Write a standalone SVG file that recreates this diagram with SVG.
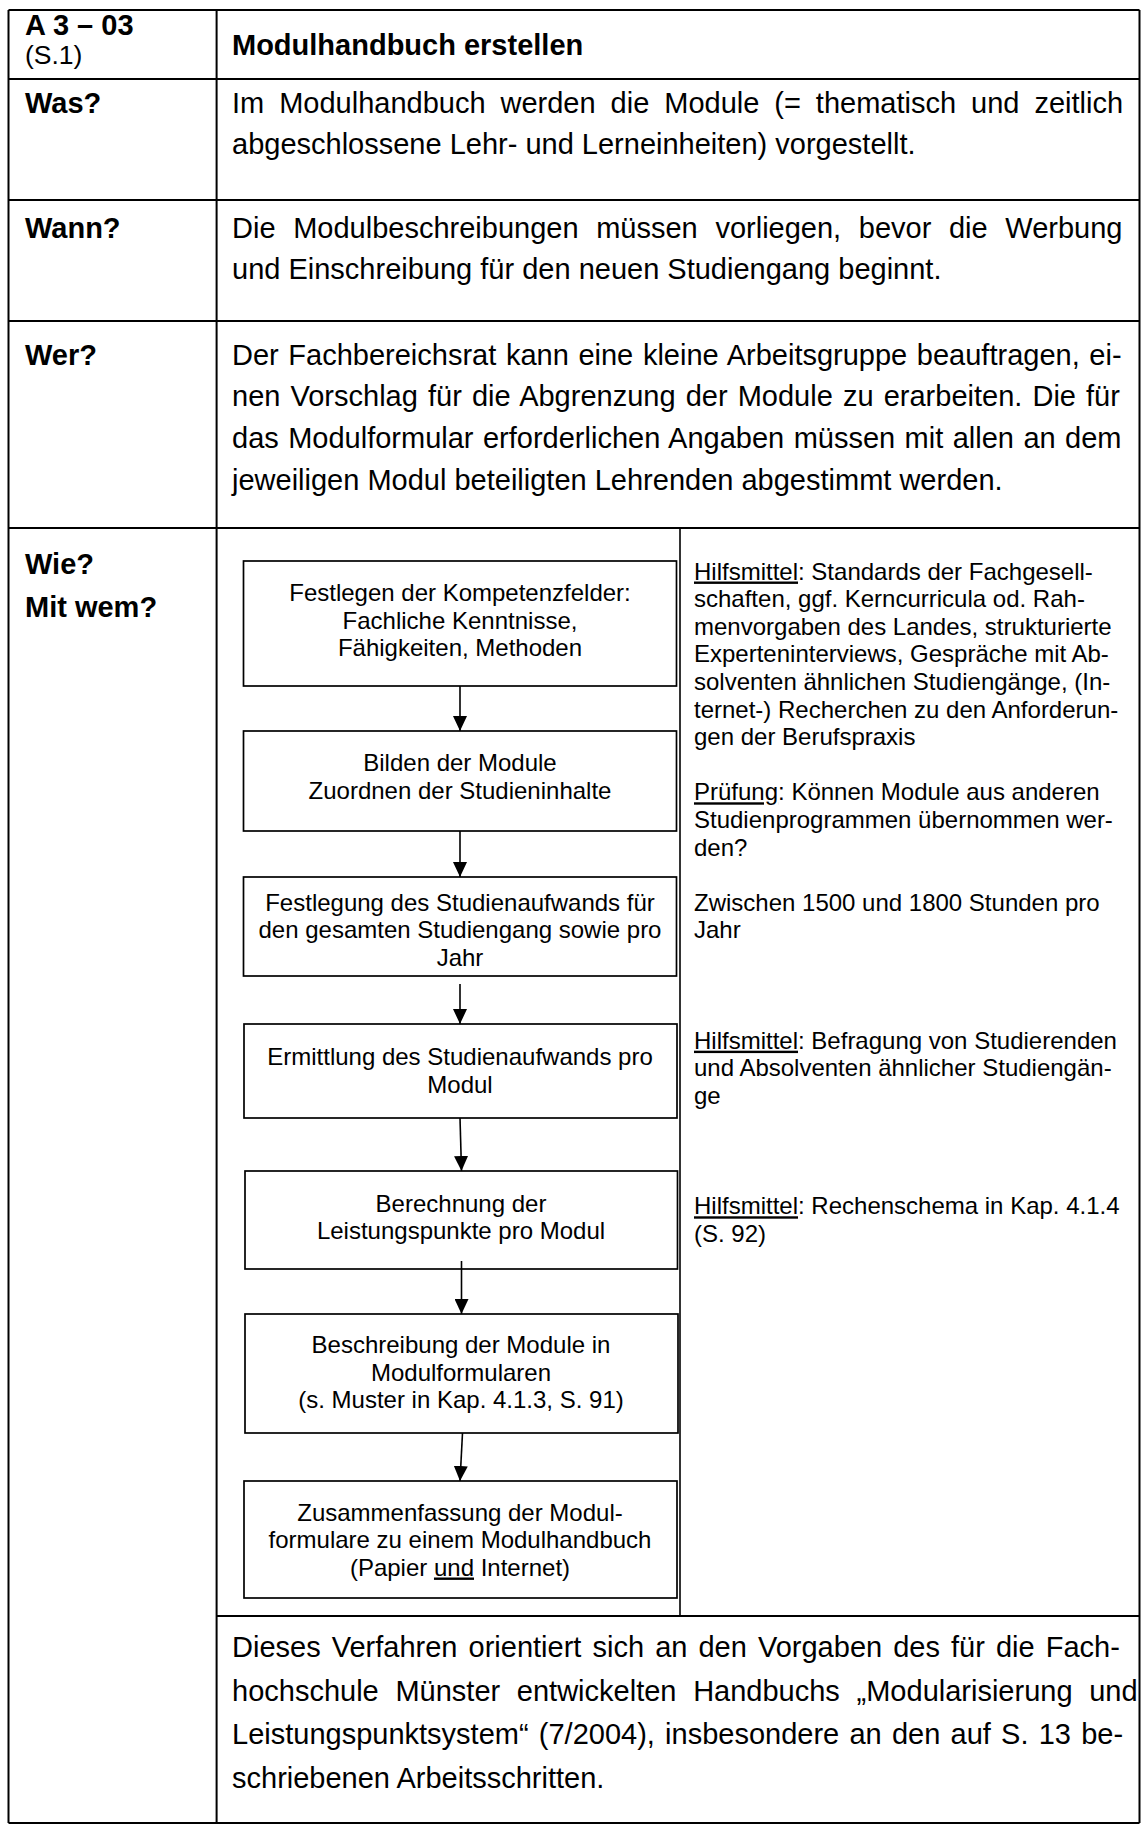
<svg xmlns="http://www.w3.org/2000/svg" width="1143" height="1832" viewBox="0 0 1143 1832">
<defs>
<style>
text{font-family:"Liberation Sans",Arial,sans-serif;fill:#000;}
.b{font-size:29px;}
.bb{font-size:29px;font-weight:bold;}
.s{font-size:24px;}
.c{font-size:24px;text-anchor:middle;}
.u{text-decoration:underline;}
.tl{fill:none;stroke:#000;stroke-width:2;}
.box{fill:#fff;stroke:#000;stroke-width:1.7;}
.con{stroke:#000;stroke-width:1.6;fill:none;}
</style>
<marker id="ah" markerUnits="userSpaceOnUse" markerWidth="15" markerHeight="14" refX="15" refY="7" orient="auto">
<path d="M0,0 L15,7 L0,14 z" fill="#000"/>
</marker>
</defs>
<rect x="0" y="0" width="1143" height="1832" fill="#fff"/>

<g id="table">
<path class="tl" d="M8.5,10 H1139.5 M8.5,79 H1139.5 M8.5,200 H1139.5 M8.5,321 H1139.5 M8.5,528 H1139.5 M216.6,1616 H1139.5 M8.5,1823 H1139.5 M8.5,10 V1823 M216.6,10 V1823 M1139.5,10 V1823"/>
<path d="M680,528 V1616" stroke="#000" stroke-width="1.6" fill="none"/>
</g>

<g id="header">
<text class="bb" x="25" y="34.5">A 3 – 03</text>
<text x="25" y="64" style="font-size:26.5px">(S.1)</text>
<text class="bb" x="232" y="55">Modulhandbuch erstellen</text>
</g>

<g id="row-was">
<text class="bb" x="25" y="112.5">Was?</text>
<text class="b" x="232" y="112.5" word-spacing="6.9">Im Modulhandbuch werden die Module (= thematisch und zeitlich</text>
<text class="b" x="232" y="154">abgeschlossene Lehr- und Lerneinheiten) vorgestellt.</text>
</g>

<g id="row-wann">
<text class="bb" x="25" y="237.5">Wann?</text>
<text class="b" x="232" y="237.5" word-spacing="9.6">Die Modulbeschreibungen müssen vorliegen, bevor die Werbung</text>
<text class="b" x="232" y="278.5">und Einschreibung für den neuen Studiengang beginnt.</text>
</g>

<g id="row-wer">
<text class="bb" x="25" y="364.5">Wer?</text>
<text class="b" x="232" y="364.5" word-spacing="1.57">Der Fachbereichsrat kann eine kleine Arbeitsgruppe beauftragen, ei-</text>
<text class="b" x="232" y="406.2" word-spacing="2.06">nen Vorschlag für die Abgrenzung der Module zu erarbeiten. Die für</text>
<text class="b" x="232" y="447.9" word-spacing="1.37">das Modulformular erforderlichen Angaben müssen mit allen an dem</text>
<text class="b" x="232" y="489.6">jeweiligen Modul beteiligten Lehrenden abgestimmt werden.</text>
</g>

<g id="row-wie">
<text class="bb" x="25" y="573.5">Wie?</text>
<text class="bb" x="25" y="616.5">Mit wem?</text>
</g>

<g id="node-1">
<rect class="box" x="243.5" y="561" width="433" height="125"/>
<text class="c" x="460" y="601">Festlegen der Kompetenzfelder:</text>
<text class="c" x="460" y="628.6">Fachliche Kenntnisse,</text>
<text class="c" x="460" y="656.2">Fähigkeiten, Methoden</text>
</g>
<g id="node-2">
<rect class="box" x="243.5" y="731" width="433" height="100"/>
<text class="c" x="460" y="771">Bilden der Module</text>
<text class="c" x="460" y="798.6">Zuordnen der Studieninhalte</text>
</g>
<g id="node-3">
<rect class="box" x="243.5" y="877" width="433" height="99"/>
<text class="c" x="460" y="910.5">Festlegung des Studienaufwands für</text>
<text class="c" x="460" y="938.1">den gesamten Studiengang sowie pro</text>
<text class="c" x="460" y="965.7">Jahr</text>
</g>
<g id="node-4">
<rect class="box" x="244" y="1024" width="433" height="94"/>
<text class="c" x="460" y="1065">Ermittlung des Studienaufwands pro</text>
<text class="c" x="460" y="1092.6">Modul</text>
</g>
<g id="node-5">
<rect class="box" x="245" y="1171" width="432.5" height="98"/>
<text class="c" x="461" y="1211.7">Berechnung der</text>
<text class="c" x="461" y="1239.3">Leistungspunkte pro Modul</text>
</g>
<g id="node-6">
<rect class="box" x="245" y="1314" width="433" height="119"/>
<text class="c" x="461" y="1353">Beschreibung der Module in</text>
<text class="c" x="461" y="1380.6">Modulformularen</text>
<text class="c" x="461" y="1408.2">(s. Muster in Kap. 4.1.3, S. 91)</text>
</g>
<g id="node-7">
<rect class="box" x="244" y="1481" width="433" height="117"/>
<text class="c" x="460" y="1520.5">Zusammenfassung der Modul-</text>
<text class="c" x="460" y="1548">formulare zu einem Modulhandbuch</text>
<text class="c" x="460" y="1575.5">(Papier <tspan class="u">und</tspan> Internet)</text>
</g>

<g id="connectors">
<line class="con" x1="460" y1="686" x2="460" y2="731" marker-end="url(#ah)"/>
<line class="con" x1="460" y1="831" x2="460" y2="877" marker-end="url(#ah)"/>
<line class="con" x1="460" y1="984" x2="460" y2="1024" marker-end="url(#ah)"/>
<line class="con" x1="460" y1="1118" x2="461.5" y2="1171" marker-end="url(#ah)"/>
<line class="con" x1="461.5" y1="1261" x2="461.5" y2="1314" marker-end="url(#ah)"/>
<line class="con" x1="462.5" y1="1433" x2="460" y2="1481" marker-end="url(#ah)"/>
</g>

<g id="notes">
<text class="s" x="694" y="579.5"><tspan class="u">Hilfsmittel</tspan>: Standards der Fachgesell-</text>
<text class="s" x="694" y="607.1">schaften, ggf. Kerncurricula od. Rah-</text>
<text class="s" x="694" y="634.7">menvorgaben des Landes, strukturierte</text>
<text class="s" x="694" y="662.3">Experteninterviews, Gespräche mit Ab-</text>
<text class="s" x="694" y="689.9">solventen ähnlichen Studiengänge, (In-</text>
<text class="s" x="694" y="717.5">ternet-) Recherchen zu den Anforderun-</text>
<text class="s" x="694" y="745.1">gen der Berufspraxis</text>
<text class="s" x="694" y="800.3"><tspan class="u">Prüfung</tspan>: Können Module aus anderen</text>
<text class="s" x="694" y="827.9">Studienprogrammen übernommen wer-</text>
<text class="s" x="694" y="855.5">den?</text>
<text class="s" x="694" y="910.7">Zwischen 1500 und 1800 Stunden pro</text>
<text class="s" x="694" y="938.3">Jahr</text>
<text class="s" x="694" y="1048.7"><tspan class="u">Hilfsmittel</tspan>: Befragung von Studierenden</text>
<text class="s" x="694" y="1076.3">und Absolventen ähnlicher Studiengän-</text>
<text class="s" x="694" y="1103.9">ge</text>
<text class="s" x="694" y="1214.3"><tspan class="u">Hilfsmittel</tspan>: Rechenschema in Kap. 4.1.4</text>
<text class="s" x="694" y="1241.9">(S. 92)</text>
</g>

<g id="row-note">
<text class="b" x="232" y="1657" word-spacing="3.03">Dieses Verfahren orientiert sich an den Vorgaben des für die Fach-</text>
<text class="b" x="232" y="1700.5" word-spacing="8.64">hochschule Münster entwickelten Handbuchs „Modularisierung und</text>
<text class="b" x="232" y="1744" word-spacing="2.16">Leistungspunktsystem“ (7/2004), insbesondere an den auf S. 13 be-</text>
<text class="b" x="232" y="1787.5">schriebenen Arbeitsschritten.</text>
</g>
</svg>
